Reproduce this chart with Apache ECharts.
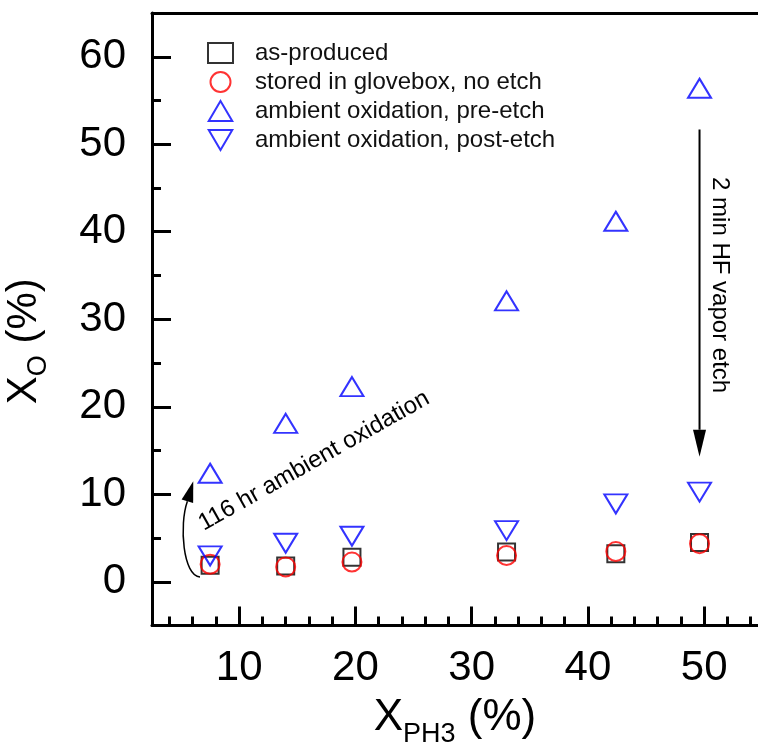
<!DOCTYPE html>
<html><head><meta charset="utf-8">
<script src="https://cdn.jsdelivr.net/npm/echarts@6/dist/echarts.min.js"></script>
<style>html,body{margin:0;padding:0;background:#fff}#c{width:758px;height:752px}</style>
</head><body><div id="c"></div>
<script>
// ---- data ----
const xPH3 = [7.5, 14.0, 19.7, 33.0, 42.4, 49.6];
const asProduced = [1.9, 1.8, 2.8, 3.4, 3.2, 4.5];
const glovebox = [2.0, 1.7, 2.25, 3.0, 3.45, 4.35];
const preEtch = [12.4, 18.1, 22.3, 32.1, 41.2, 56.4];
const postEtch = [2.95, 4.4, 5.2, 5.85, 8.9, 10.25];
const seriesNames = ['as-produced', 'stored in glovebox, no etch', 'ambient oxidation, pre-etch', 'ambient oxidation, post-etch'];
const xMajorTicks = [10, 20, 30, 40, 50];
const xMinorTicks = [4, 6, 8, 12, 14, 16, 18, 22, 24, 26, 28, 32, 34, 36, 38, 42, 44, 46, 48, 52, 54];
const yMajorTicks = [0, 10, 20, 30, 40, 50, 60];
const yMinorTicks = [5, 15, 25, 35, 45, 55];
// annotations (data coordinates)
const etchArrow = [[49.6, 51.7], [49.6, 14.3]];
const etchLabel = { text: '2 min HF vapor etch', at: [51.36, 33.9] };
const oxCurve = [[6.63, 0.54], [5.17, 0.65], [4.82, 6.48], [5.6, 9.45]];
const oxTip = [6.05, 11.5];
const oxLabel = { text: '116 hr ambient oxidation', at: [16.44, 13.8], angleDeg: 29.5 };

const FONT = 'Liberation Sans, Arial, sans-serif';
const X_MIN = 2.5, X_MAX = 54.63, Y_MIN = -5, Y_MAX = 65;
const pair = (ys) => xPH3.map((x, i) => [x, ys[i]]);

const chart = echarts.init(document.getElementById('c'), null, { renderer: 'canvas' });

function xAxisBase(extra) {
  return Object.assign({
    type: 'value', min: X_MIN, max: X_MAX, position: 'bottom',
    splitLine: { show: false },
    axisLine: { show: false, onZero: false, lineStyle: { color: '#000', width: 3 } },
    axisLabel: { show: false },
    axisTick: { show: false }
  }, extra);
}
function yAxisBase(extra) {
  return Object.assign({
    type: 'value', min: Y_MIN, max: Y_MAX, position: 'left',
    splitLine: { show: false },
    axisLine: { show: false, onZero: false, lineStyle: { color: '#000', width: 3 } },
    axisLabel: { show: false },
    axisTick: { show: false }
  }, extra);
}

const option = {
  animation: false,
  backgroundColor: '#fff',
  textStyle: { fontFamily: FONT },
  grid: { left: 152, top: 13, right: 0, bottom: 126.5, show: false, containLabel: false, outerBoundsMode: 'none' },
  legend: {
    orient: 'vertical', left: 207, top: 41, padding: 0, itemWidth: 25, itemHeight: 20, itemGap: 5,
    selectedMode: false,
    textStyle: { fontFamily: FONT, fontSize: 24, color: '#111', padding: [0, 0, 0, 17] },
    data: seriesNames
  },
  xAxis: [
    xAxisBase({
      axisLine: { show: true, onZero: false, lineStyle: { color: '#000', width: 3 } },
      axisTick: { show: true, inside: true, length: 19, customValues: xMajorTicks, lineStyle: { color: '#000', width: 3 } },
      axisLabel: { show: true, customValues: xMajorTicks, fontSize: 42, color: '#000', margin: 22, fontFamily: FONT },
      name: '{m|X}{s|PH3}{m| (%)}', nameLocation: 'middle', nameGap: 70,
      nameTextStyle: {
        rich: {
          m: { fontSize: 44, fontFamily: FONT, color: '#000', verticalAlign: 'top', lineHeight: 46 },
          s: { fontSize: 27, fontFamily: FONT, color: '#000', verticalAlign: 'top', padding: [26, 0, 0, 0] }
        }
      }
    }),
    xAxisBase({
      axisTick: { show: true, inside: true, length: 9, customValues: xMinorTicks, lineStyle: { color: '#000', width: 3 } }
    }),
    xAxisBase({
      position: 'top',
      axisLine: { show: true, onZero: false, lineStyle: { color: '#000', width: 3 } }
    })
  ],
  yAxis: [
    yAxisBase({
      axisLine: { show: true, onZero: false, lineStyle: { color: '#000', width: 3 } },
      axisTick: { show: true, inside: true, length: 19, customValues: yMajorTicks, lineStyle: { color: '#000', width: 3 } },
      axisLabel: { show: true, customValues: yMajorTicks, fontSize: 42, color: '#000', margin: 26, fontFamily: FONT },
      name: '{m|X}{s|O}{m| (%)}', nameLocation: 'middle', nameGap: 100,
      nameTextStyle: {
        padding: [0, 44, 0, 0],
        rich: {
          m: { fontSize: 42, fontFamily: FONT, color: '#000', verticalAlign: 'top', lineHeight: 44 },
          s: { fontSize: 27, fontFamily: FONT, color: '#000', verticalAlign: 'top', padding: [22, 0, 0, 0] }
        }
      }
    }),
    yAxisBase({
      axisTick: { show: true, inside: true, length: 9, customValues: yMinorTicks, lineStyle: { color: '#000', width: 3 } }
    })
  ],
  series: [
    { name: seriesNames[0], type: 'scatter', symbol: 'rect', symbolSize: 17, data: pair(asProduced),
      itemStyle: { color: 'rgba(0,0,0,0)', borderColor: '#000', borderWidth: 2 } },
    { name: seriesNames[1], type: 'scatter', symbol: 'circle', symbolSize: 19, data: pair(glovebox),
      itemStyle: { color: 'rgba(0,0,0,0)', borderColor: '#ff0000', borderWidth: 2 } },
    { name: seriesNames[2], type: 'scatter', symbol: 'path://M10,0 L20,17 L0,17 Z', symbolSize: [23, 19], data: pair(preEtch),
      itemStyle: { color: 'rgba(0,0,0,0)', borderColor: '#0000ff', borderWidth: 2 } },
    { name: seriesNames[3], type: 'scatter', symbol: 'path://M0,0 L20,0 L10,17 Z', symbolSize: [23, 19], data: pair(postEtch),
      itemStyle: { color: 'rgba(0,0,0,0)', borderColor: '#0000ff', borderWidth: 2 } }
  ]
};
chart.setOption(option);

// ---- annotations placed through the chart's own coordinate system ----
const P = (v) => chart.convertToPixel({ xAxisIndex: 0, yAxisIndex: 0 }, v);
function arrowHead(tip, from, len, halfW) {
  const dx = tip[0] - from[0], dy = tip[1] - from[1];
  const d = Math.hypot(dx, dy) || 1;
  const ux = dx / d, uy = dy / d;
  const bx = tip[0] - ux * len, by = tip[1] - uy * len;
  return { base: [bx, by], points: [tip, [bx - uy * halfW, by + ux * halfW], [bx + uy * halfW, by - ux * halfW]] };
}
const g = [];
{
  const a = P(etchArrow[0]), b = P(etchArrow[1]);
  const h = arrowHead(b, a, 27, 6.5);
  g.push({ type: 'line', shape: { x1: a[0], y1: a[1], x2: h.base[0], y2: h.base[1] }, style: { stroke: '#000', lineWidth: 2 } });
  g.push({ type: 'polygon', shape: { points: h.points }, style: { fill: '#000' } });
  const t = P(etchLabel.at);
  g.push({ type: 'text', x: t[0], y: t[1], rotation: -Math.PI / 2,
    style: { text: etchLabel.text, font: '24px ' + FONT, fill: '#000', align: 'center', verticalAlign: 'middle' } });
}
{
  const p = oxCurve.map(P);
  const tip = P(oxTip);
  const h = arrowHead(tip, p[3], 21, 6);
  g.push({ type: 'bezierCurve', shape: { x1: p[0][0], y1: p[0][1], cpx1: p[1][0], cpy1: p[1][1], cpx2: p[2][0], cpy2: p[2][1], x2: h.base[0], y2: h.base[1] },
    style: { stroke: '#000', lineWidth: 1.5, fill: null } });
  g.push({ type: 'polygon', shape: { points: h.points }, style: { fill: '#000' } });
  const t = P(oxLabel.at);
  g.push({ type: 'text', x: t[0], y: t[1], rotation: oxLabel.angleDeg * Math.PI / 180,
    style: { text: oxLabel.text, font: '24px ' + FONT, fill: '#000', align: 'center', verticalAlign: 'middle' } });
}
chart.setOption({ graphic: g });
</script>
</body></html>
